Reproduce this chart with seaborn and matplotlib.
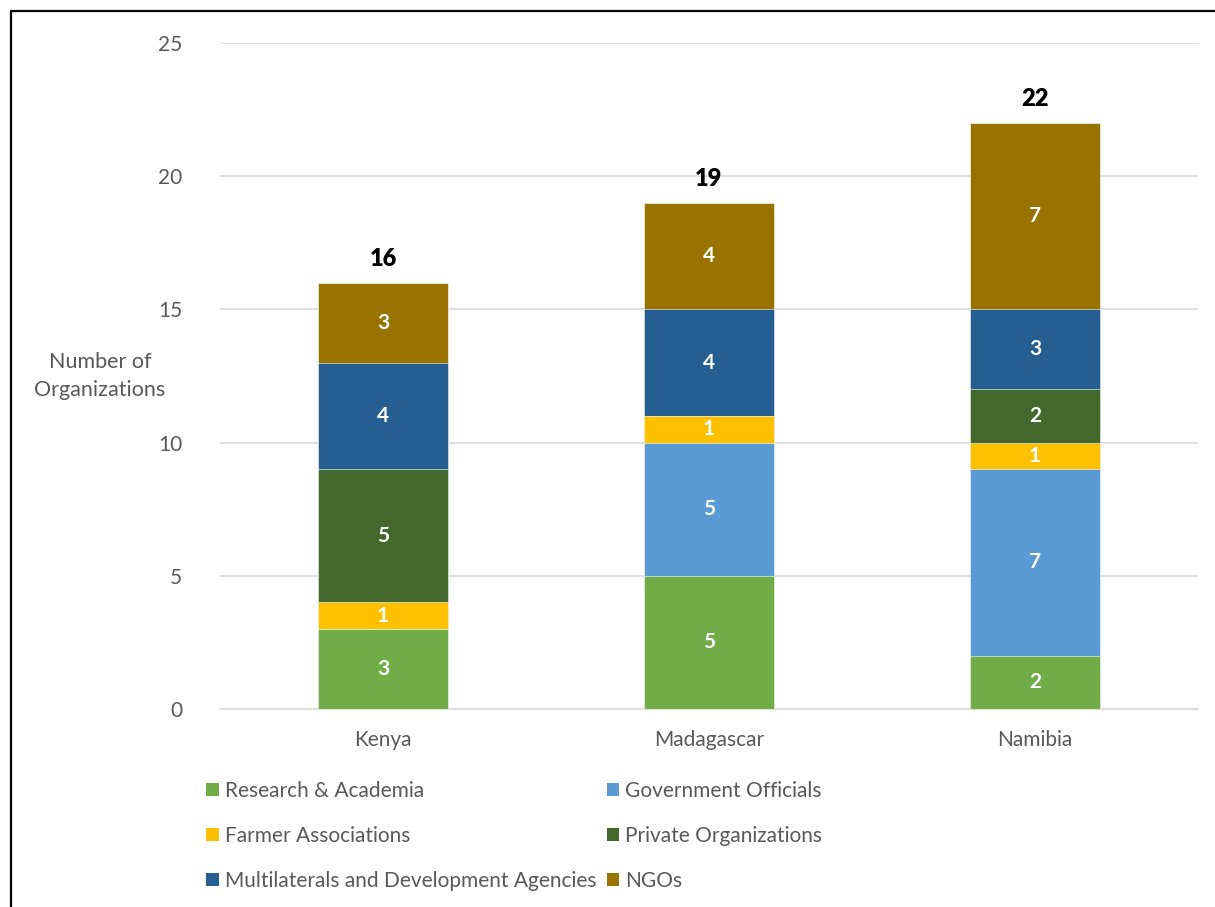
import numpy as np
import pandas as pd
import matplotlib
matplotlib.use('Agg')
import matplotlib.pyplot as plt
from matplotlib.lines import Line2D
from matplotlib.patches import Patch
import seaborn as sns

# Datos
paises = ['Kenya', 'Madagascar', 'Namibia']
categorias = ['Research & Academia', 'Government Officials', 'Farmer Associations',
              'Private Organizations', 'Multilaterals and Development Agencies', 'NGOs']
research = [3, 5, 2]
gobierno = [0, 5, 7]
agricultores = [1, 1, 1]
privadas = [5, 0, 2]
multilaterales = [4, 4, 3]
ongs = [3, 4, 7]
colores = ['#70AD47', '#5B9BD5', '#FFC000', '#43682B', '#255E91', '#997300']

valores = np.array([research, gobierno, agricultores, privadas, multilaterales, ongs])
acumulado = valores.cumsum(axis=0)
totales = acumulado[-1]

sns.set_style('white')
plt.rcParams['font.family'] = ['Lato', 'DejaVu Sans']
gris = '#595959'

fig = plt.figure(figsize=(12.15, 9.07), dpi=100)
ax = fig.add_axes([0.181, 0.2183, 0.805, 0.7343])

# Barras apiladas: se dibujan los acumulados de arriba hacia abajo
for i in range(len(categorias) - 1, -1, -1):
    df = pd.DataFrame({'pais': paises, 'valor': acumulado[i]})
    sns.barplot(data=df, x='pais', y='valor', color=colores[i], width=0.4,
                saturation=1, edgecolor='white', linewidth=0.4, ax=ax, zorder=3)

# Etiquetas de segmentos
for i in range(len(categorias)):
    for j in range(len(paises)):
        v = valores[i, j]
        if v > 0:
            ax.text(j, acumulado[i, j] - v / 2, str(v), ha='center', va='center',
                    color='white', fontsize=15, fontweight='bold', zorder=4)

# Totales
for j in range(len(paises)):
    ax.annotate(str(totales[j]), (j, totales[j]), xytext=(0, 9), textcoords='offset points',
                ha='center', va='bottom', fontsize=17, fontweight='heavy', color='black')

ax.set_ylim(0, 25)
ax.set_xlim(-0.5, 2.5)
ax.set_yticks([0, 5, 10, 15, 20, 25])
ax.yaxis.grid(True, color='#D9D9D9', linewidth=1.2, zorder=0)
ax.set_axisbelow(True)
for s in ['top', 'right', 'left']:
    ax.spines[s].set_visible(False)
ax.spines['bottom'].set_color('#D9D9D9')
ax.spines['bottom'].set_linewidth(1.2)
ax.tick_params(axis='both', length=0, labelsize=15, labelcolor=gris)
ax.tick_params(axis='x', pad=15)
ax.tick_params(axis='y', pad=27)
ax.set_xlabel('')
ax.set_ylabel('')

fig.text(100 / 1215, 1 - 376 / 907, 'Number of\nOrganizations', ha='center', va='center',
         fontsize=15.5, color=gris, linespacing=1.55)

# Leyenda
orden = [0, 2, 4, 1, 3, 5]
handles = [Patch(facecolor=colores[k], edgecolor='none') for k in orden]
labels = [categorias[k] for k in orden]
fig.legend(handles, labels, loc='upper left', bbox_to_anchor=(206 / 1215, 1 - 781 / 907),
           ncol=2, frameon=False, fontsize=15, labelcolor=gris, handlelength=0.6,
           handleheight=0.6, handletextpad=0.3, columnspacing=0.5, labelspacing=1.2,
           borderpad=0, borderaxespad=0)

# Marco de la imagen
fig.add_artist(Line2D([11 / 1215, 11 / 1215], [0, 1 - 11 / 907], color='black', linewidth=1.6))
fig.add_artist(Line2D([11 / 1215, 1], [1 - 11 / 907, 1 - 11 / 907], color='black', linewidth=1.6))

fig.savefig('out.png', dpi=100)
plt.close(fig)
